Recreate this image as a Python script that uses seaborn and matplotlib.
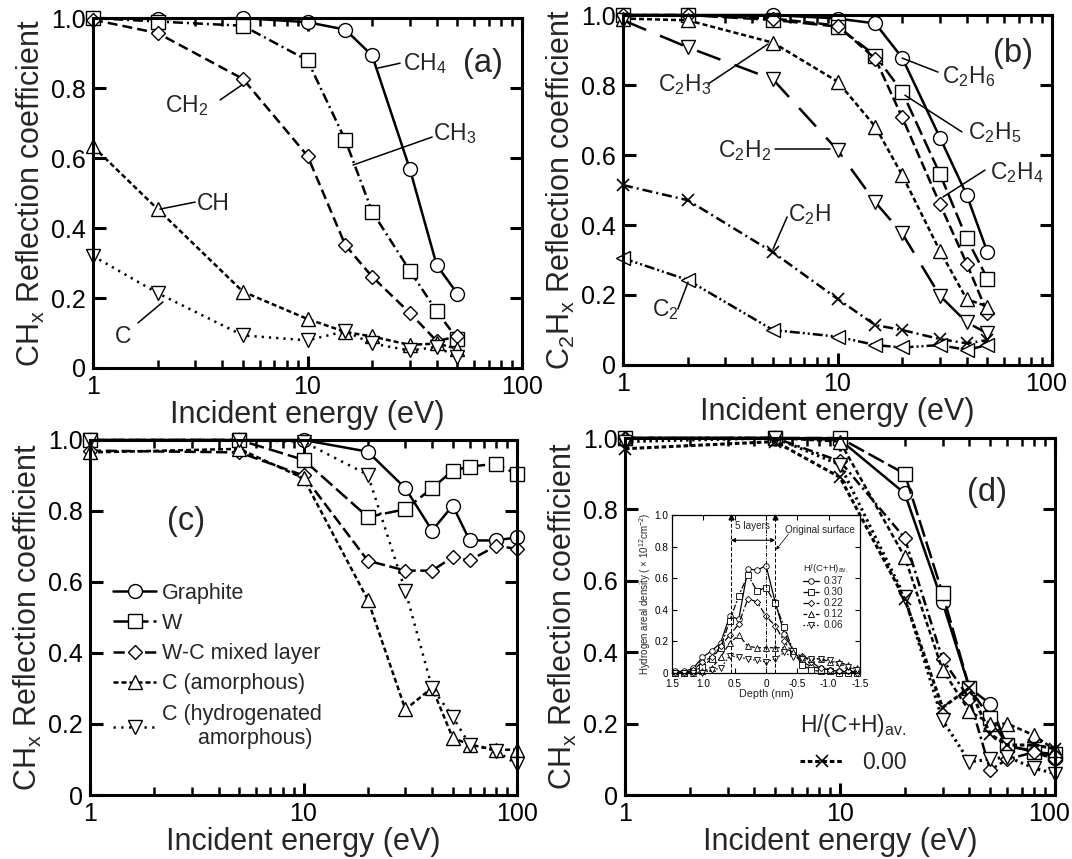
import numpy as np
import pandas as pd
import seaborn as sns
import matplotlib.pyplot as plt
from matplotlib.ticker import FixedLocator, FixedFormatter, LogLocator, NullFormatter, FuncFormatter
from matplotlib.transforms import ScaledTranslation

# Incident energies (eV)
energy_ab = [1, 2, 5, 10, 15, 20, 30, 40, 50]
energy_cd = [1, 5, 10, 20, 30, 40, 50, 60, 80, 100]

# (a) CHx reflection on graphite
ch4 = [1.0, 0.997, 1.0, 0.988, 0.967, 0.893, 0.568, 0.294, 0.212]
ch3 = [1.0, 0.99, 0.978, 0.879, 0.651, 0.447, 0.278, 0.162, 0.082]
ch2 = [0.995, 0.957, 0.826, 0.606, 0.351, 0.261, 0.157, 0.077, 0.09]
ch1 = [0.633, 0.454, 0.218, 0.14, 0.103, 0.09, 0.066, 0.07, 0.055]
c1 = [0.32, 0.214, 0.093, 0.079, 0.105, 0.07, 0.05, 0.06, 0.032]

# (b) C2Hx reflection on graphite
c2h6 = [1.0, 1.0, 1.0, 0.99, 0.976, 0.878, 0.65, 0.486, 0.322]
c2h5 = [1.0, 1.0, 0.986, 0.967, 0.884, 0.781, 0.546, 0.362, 0.246]
c2h4 = [1.0, 1.0, 0.99, 0.97, 0.875, 0.708, 0.46, 0.29, 0.148]
c2h3 = [0.99, 0.985, 0.921, 0.81, 0.681, 0.543, 0.326, 0.188, 0.167]
c2h2 = [0.985, 0.908, 0.816, 0.614, 0.465, 0.376, 0.198, 0.122, 0.09]
c2h1 = [0.514, 0.471, 0.322, 0.189, 0.114, 0.1, 0.074, 0.062, 0.071]
c2 = [0.305, 0.243, 0.1, 0.081, 0.057, 0.05, 0.057, 0.043, 0.057]

# (c) CHx reflection on different surfaces
graphite = [1.0, 1.0, 1.0, 0.967, 0.864, 0.745, 0.815, 0.717, 0.717, 0.726]
tungsten = [1.0, 1.0, 0.944, 0.783, 0.805, 0.864, 0.914, 0.925, 0.933, 0.903]
wc_mixed = [0.97, 0.965, 0.90, 0.66, 0.632, 0.632, 0.67, 0.661, 0.702, 0.693]
c_amorph = [0.965, 0.975, 0.892, 0.55, 0.241, 0.302, 0.161, 0.142, 0.127, 0.128]
c_hydro = [1.0, 1.0, 0.995, 0.902, 0.575, 0.302, 0.22, 0.142, 0.124, 0.086]
surface_labels = ["Graphite", "W", "W-C mixed layer", "C (amorphous)",
                  "C (hydrogenated\n      amorphous)"]

# (d) CHx reflection vs hydrogen content H/(C+H)av.
h037 = [1.0, 1.0, 0.995, 0.845, 0.54, 0.30, 0.255, 0.135, 0.125, 0.105]
h030 = [1.0, 1.0, 1.0, 0.90, 0.565, 0.30, 0.215, 0.14, 0.12, 0.115]
h022 = [1.0, 1.0, 0.935, 0.72, 0.38, 0.27, 0.07, 0.10, 0.12, 0.10]
h012 = [1.0, 1.0, 0.99, 0.667, 0.35, 0.235, 0.20, 0.20, 0.167, 0.126]
h006 = [0.99, 1.0, 0.925, 0.555, 0.21, 0.093, 0.10, 0.107, 0.075, 0.06]
h000 = [0.97, 0.99, 0.89, 0.549, 0.245, 0.30, 0.17, 0.14, 0.14, 0.13]

# inset: hydrogen areal density profiles (x 10^12 cm^-2) vs depth (nm)
depth = [1.45, 1.305, 1.16, 1.015, 0.87, 0.725, 0.58, 0.435, 0.29, 0.145, 0.0,
         -0.145, -0.29, -0.435, -0.58, -0.725, -0.87, -1.015, -1.16, -1.305, -1.45]
dens037 = [0.01, 0.01, 0.03, 0.10, 0.14, 0.19, 0.36, 0.34, 0.66, 0.65, 0.68,
           0.45, 0.25, 0.14, 0.07, 0.04, 0.03, 0.02, 0.01, 0.01, 0.01]
dens030 = [0.0, 0.0, 0.01, 0.04, 0.09, 0.16, 0.33, 0.49, 0.62, 0.52, 0.54,
           0.44, 0.29, 0.14, 0.05, 0.02, 0.01, 0.01, 0.0, 0.0, 0.0]
dens022 = [0.0, 0.0, 0.02, 0.07, 0.10, 0.17, 0.24, 0.31, 0.47, 0.45, 0.36,
           0.30, 0.20, 0.12, 0.11, 0.07, 0.03, 0.02, 0.01, 0.01, 0.0]
dens012 = [0.0, 0.0, 0.0, 0.01, 0.03, 0.10, 0.19, 0.24, 0.17, 0.16, 0.16,
           0.16, 0.16, 0.13, 0.10, 0.09, 0.09, 0.07, 0.07, 0.05, 0.03]
dens006 = [0.0, 0.0, 0.0, 0.0, 0.02, 0.03, 0.11, 0.10, 0.09, 0.08, 0.07,
           0.09, 0.13, 0.10, 0.09, 0.09, 0.09, 0.08, 0.06, 0.04, 0.02]
fraction_labels = ["0.37", "0.30", "0.22", "0.12", "0.06", "0.00"]

sns.set_theme(style="ticks")
plt.rcParams["font.family"] = ["Liberation Sans", "DejaVu Sans"]
plt.rcParams["mathtext.fontset"] = "custom"
plt.rcParams["mathtext.rm"] = "Liberation Sans"
plt.rcParams["mathtext.it"] = "Liberation Sans:italic"
plt.rcParams["mathtext.bf"] = "Liberation Sans:bold"

fig = plt.figure(figsize=(10.72, 8.59), dpi=100)
ax_a = fig.add_axes([0.0868, 0.5716, 0.4002, 0.4074])
ax_b = fig.add_axes([0.5812, 0.5751, 0.4002, 0.4074])
ax_c = fig.add_axes([0.0840, 0.0745, 0.3983, 0.4133])
ax_d = fig.add_axes([0.5830, 0.0745, 0.4011, 0.4156])

MS = {"o": 10, "s": 9.5, "D": 7.3, "^": 10.5, "v": 10.5, "x": 9, "<": 10}


def draw(ax, x, y, marker, ls, lw=1.8, ms=None, mew=1.0):
    sns.lineplot(x=x, y=y, ax=ax, color="black", marker=marker,
                 markersize=ms if ms else MS[marker], markerfacecolor="white",
                 markeredgecolor="black", markeredgewidth=mew, linewidth=lw,
                 linestyle=ls, clip_on=False, errorbar=None)
    return ax.lines[-1]


def style_main(ax, ylabel):
    ax.set_xscale("log")
    ax.set_xlim(1, 100)
    ax.set_ylim(0, 1.0)
    ax.xaxis.set_major_locator(FixedLocator([1, 10, 100]))
    ax.xaxis.set_major_formatter(FuncFormatter(lambda v, p: f"{v:g}"))
    ax.xaxis.set_minor_locator(LogLocator(base=10, subs=range(2, 10)))
    ax.xaxis.set_minor_formatter(NullFormatter())
    ax.yaxis.set_major_locator(FixedLocator([0, 0.2, 0.4, 0.6, 0.8, 1.0]))
    ax.yaxis.set_major_formatter(FixedFormatter(["0", "0.2", "0.4", "0.6", "0.8", "1.0"]))
    ax.tick_params(which="both", direction="in", top=True, right=True,
                   labelsize=18, colors="black")
    ax.tick_params(which="major", length=9, width=2.2, pad=5)
    ax.tick_params(which="minor", length=6, width=1.8)
    for s in ax.spines.values():
        s.set_linewidth(2.2)
        s.set_color("black")
    ax.set_xlabel("Incident energy (eV)", fontsize=22, labelpad=1)
    ax.set_ylabel(ylabel, fontsize=22, labelpad=3)


def tag(ax, x, y, text, lx, ly, fs=16.5):
    ax.plot(lx, ly, color="black", lw=1.1, clip_on=False)
    ax.text(x, y, text, fontsize=fs, ha="left", va="center")


# ---- (a)
draw(ax_a, energy_ab, ch4, "o", "-")
draw(ax_a, energy_ab, ch3, "s", (0, (4, 1.6, 0.8, 1.6)))
draw(ax_a, energy_ab, ch2, "D", (0, (4, 2)))
draw(ax_a, energy_ab, ch1, "^", (0, (2, 1.2)))
draw(ax_a, energy_ab, c1, "v", (0, (0.9, 2)))
style_main(ax_a, r"CH$_\mathrm{x}$ Reflection coefficient")
tag(ax_a, 27.9, 0.871, r"CH$_4$", [21.3, 27.0], [0.857, 0.871])
tag(ax_a, 2.17, 0.751, r"CH$_2$", [3.91, 4.95], [0.766, 0.809])
tag(ax_a, 38.5, 0.671, r"CH$_3$", [38.1, 16.3], [0.66, 0.58])
tag(ax_a, 3.05, 0.471, "CH", [2.99, 2.05], [0.474, 0.454])
tag(ax_a, 1.27, 0.089, "C", [1.62, 2.12], [0.129, 0.189])
ax_a.text(53, 0.871, "(a)", fontsize=23.5, ha="left", va="center")

# ---- (b)
draw(ax_b, energy_ab, c2h6, "o", "-")
draw(ax_b, energy_ab, c2h5, "s", (0, (6, 2)))
draw(ax_b, energy_ab, c2h4, "D", (0, (4, 1.6)))
draw(ax_b, energy_ab, c2h3, "^", (0, (2, 1.2)))
draw(ax_b, energy_ab, c2h2, "v", (0, (10, 6)))
draw(ax_b, energy_ab, c2h1, "x", (0, (4, 1.6, 0.8, 1.6)), mew=1.2)
draw(ax_b, energy_ab, c2, "<", (0, (4, 1.2, 0.8, 1.2, 0.8, 1.2)))
style_main(ax_b, r"C$_2$H$_\mathrm{x}$ Reflection coefficient")
tag(ax_b, 30.7, 0.823, r"C$_2$H$_6$", [20.0, 29.4], [0.877, 0.837])
tag(ax_b, 40.6, 0.663, r"C$_2$H$_5$", [20.6, 38.0], [0.771, 0.666])
tag(ax_b, 51.4, 0.549, r"C$_2$H$_4$", [31.0, 48.7], [0.48, 0.557])
tag(ax_b, 1.46, 0.80, r"C$_2$H$_3$", [2.49, 4.74], [0.803, 0.917])
tag(ax_b, 2.77, 0.614, r"C$_2$H$_2$", [5.11, 9.23], [0.617, 0.617])
tag(ax_b, 5.88, 0.431, r"C$_2$H", [5.82, 5.0], [0.423, 0.331])
tag(ax_b, 1.365, 0.157, r"C$_2$", [1.80, 2.01], [0.16, 0.237])
ax_b.text(53, 0.891, "(b)", fontsize=23.5, ha="left", va="center")

# ---- (c)
hc = [draw(ax_c, energy_cd, graphite, "o", "-"),
      draw(ax_c, energy_cd, tungsten, "s", (0, (6, 2))),
      draw(ax_c, energy_cd, wc_mixed, "D", (0, (4.5, 1.8))),
      draw(ax_c, energy_cd, c_amorph, "^", (0, (2, 1.2))),
      draw(ax_c, energy_cd, c_hydro, "v", (0, (0.9, 2.2)))]
style_main(ax_c, r"CH$_\mathrm{x}$ Reflection coefficient")
ax_c.legend(hc, surface_labels, loc="upper left", bbox_to_anchor=(0.054, 0.598),
            frameon=False, fontsize=15.5, borderpad=0, borderaxespad=0,
            handlelength=2.0, handletextpad=0.25, labelspacing=0.43)
ax_c.text(0.18, 0.769, "(c)", transform=ax_c.transAxes, fontsize=23.5,
          ha="left", va="center")

# ---- (d)
draw(ax_d, energy_cd, h037, "o", "-")
draw(ax_d, energy_cd, h030, "s", (0, (7, 2)))
draw(ax_d, energy_cd, h022, "D", (0, (4, 1.5, 1, 1.5)))
draw(ax_d, energy_cd, h012, "^", (0, (2, 1.2)))
draw(ax_d, energy_cd, h006, "v", (0, (0.8, 1.2)), lw=2.2)
l00 = draw(ax_d, energy_cd, h000, "x", (0, (1.5, 0.9)), lw=2.2, mew=1.2)
style_main(ax_d, r"CH$_\mathrm{x}$ Reflection coefficient")
ax_d.legend([l00], [fraction_labels[5]], title=r"H/(C+H)$_\mathrm{av.}$",
            loc="upper left", bbox_to_anchor=(0.407, 0.232), frameon=False,
            fontsize=16.5, title_fontsize=16.5, borderpad=0, borderaxespad=0,
            handlelength=1.9, handletextpad=0.8, alignment="left")
ax_d.text(0.795, 0.846, "(d)", transform=ax_d.transAxes, fontsize=23.5,
          ha="left", va="center")

# ---- inset of (d)
ax_i = fig.add_axes([0.6269, 0.2165, 0.1754, 0.184])
hi = [draw(ax_i, depth, dens037, "o", "-", lw=0.9, ms=4, mew=0.6),
      draw(ax_i, depth, dens030, "s", (0, (5, 1.5, 1.5, 1.5)), lw=0.9, ms=4, mew=0.6),
      draw(ax_i, depth, dens022, "D", (0, (5, 2, 1.5, 2)), lw=0.9, ms=3.2, mew=0.6),
      draw(ax_i, depth, dens012, "^", (0, (3, 2)), lw=0.9, ms=4, mew=0.6),
      draw(ax_i, depth, dens006, "v", (0, (1.2, 1.5)), lw=0.9, ms=4, mew=0.6)]
ax_i.set_xlim(1.5, -1.5)
ax_i.set_ylim(0, 1.0)
ax_i.xaxis.set_major_locator(FixedLocator([1.5, 1.0, 0.5, 0, -0.5, -1.0, -1.5]))
ax_i.xaxis.set_major_formatter(FixedFormatter(["1.5", "1.0", "0.5", "0", "-0.5", "-1.0", "-1.5"]))
ax_i.yaxis.set_major_locator(FixedLocator([0, 0.2, 0.4, 0.6, 0.8, 1.0]))
ax_i.yaxis.set_major_formatter(FixedFormatter(["0", "0.2", "0.4", "0.6", "0.8", "1.0"]))
ax_i.tick_params(which="both", direction="in", top=True, right=True, labelsize=7.2,
                 length=3.5, width=0.8, pad=2.5, colors="black")
ax_i.tick_params(axis="x", pad=4)
for s in ax_i.spines.values():
    s.set_linewidth(0.9)
    s.set_color("black")
ax_i.set_xlabel("Depth (nm)", fontsize=7.8, labelpad=0)
ax_i.set_ylabel(r"Hydrogen areal density ( $\times$ 10$^{12}$cm$^{-2}$)", fontsize=7,
                labelpad=1)
for xv, ls in [(0.56, (0, (4, 2))), (-0.145, (0, (4, 2))), (0.0, (0, (4, 1.5, 1, 1.5)))]:
    ax_i.axvline(xv, color="black", lw=0.7, ls=ls)
for xv in (0.56, -0.145):
    ax_i.plot([xv], [0.985], marker="^", ms=3.5, color="black", clip_on=False)
ax_i.annotate("", xy=(0.56, 0.84), xytext=(-0.145, 0.84),
              arrowprops=dict(arrowstyle="<|-|>", lw=0.8, color="black",
                              mutation_scale=6, shrinkA=0, shrinkB=0))
ax_i.text(0.21, 0.93, "5 layers", fontsize=7.2, ha="center", va="center")
ax_i.text(-0.86, 0.905, "Original surface", fontsize=7.2, ha="center", va="center")
ax_i.annotate("", xy=(-0.16, 0.78), xytext=(-0.36, 0.88),
              arrowprops=dict(arrowstyle="-|>", lw=0.5, color="black",
                              mutation_scale=5, shrinkA=0, shrinkB=0))
ax_i.legend(hi, fraction_labels[:5], title=r"H/(C+H)$_\mathrm{av.}$", loc="upper left",
            bbox_to_anchor=(0.697, 0.70), frameon=False, fontsize=7.2,
            title_fontsize=6.8, borderpad=0, borderaxespad=0, handlelength=1.6,
            handletextpad=0.5, labelspacing=0.1, alignment="left")

# keep the "100" tick label of the right-hand panels inside the figure
fig.canvas.draw()
for ax in (ax_b, ax_d):
    lab = ax.xaxis.get_major_ticks()[-1].label1
    lab.set_transform(lab.get_transform() + ScaledTranslation(-0.06, 0, fig.dpi_scale_trans))

fig.savefig("out.png", dpi=100)
